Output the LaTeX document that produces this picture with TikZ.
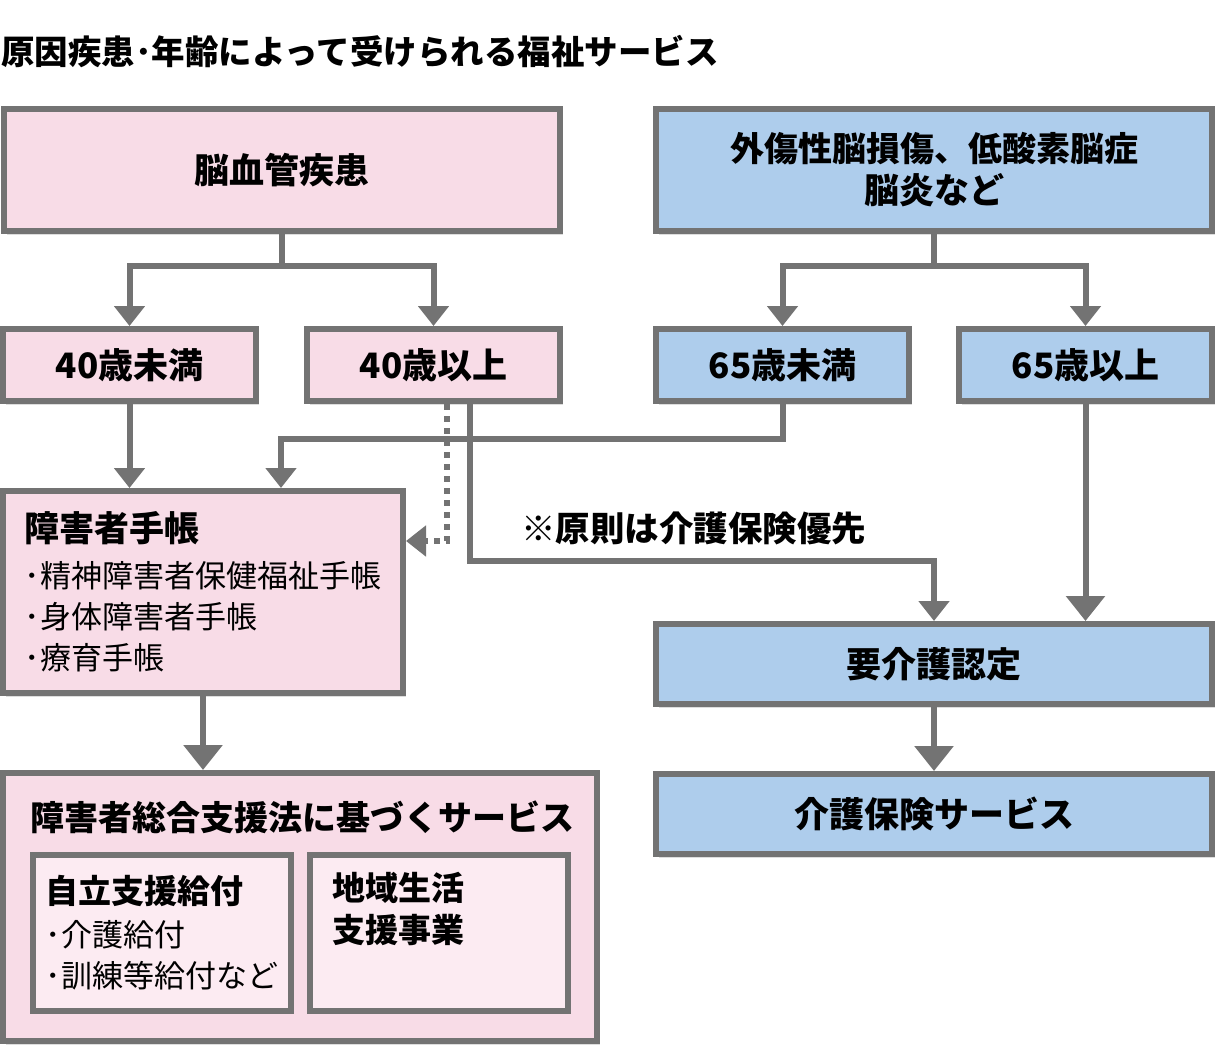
\documentclass[tikz,border=0pt]{standalone}
\usepackage{fontspec}
\setmainfont{Noto Sans CJK JP}
\usepackage{xcolor}
\usetikzlibrary{
    arrows.meta,
    shadows,
    calc,
    positioning
}
\definecolor{boxpink}{HTML}{F8DCE7}
\definecolor{boxblue}{HTML}{AECDEC}
\definecolor{innerpink}{HTML}{FCEBF2}
\definecolor{linegray}{HTML}{737373}
\newcommand{\boxfont}{\fontsize{35}{42}\selectfont\bfseries}
\newcommand{\listfont}{\fontsize{31}{41}\selectfont}

\begin{document}
\begin{tikzpicture}[x=1pt, y=-1pt,
    box/.style={draw=linegray, line width=6pt, inner sep=0pt, align=center,
        font=\boxfont,
        drop shadow={shadow xshift=3pt, shadow yshift=-4pt, fill=black!60, opacity=.22}},
    pinkbox/.style={box, fill=boxpink},
    bluebox/.style={box, fill=boxblue},
    innerbox/.style={draw=linegray, line width=6pt, fill=innerpink, inner sep=0pt,
        minimum width=258pt, minimum height=156pt},
    agebox/.style={minimum width=253pt, minimum height=72pt},
    wide/.style={minimum width=556pt},
    line/.style={draw=linegray, line width=6pt},
    arr/.style={line, -{Triangle[width=30pt, length=20pt]}},
    bigarr/.style={line, -{Triangle[width=38pt, length=25pt]}},
    dotarr/.style={arr, dash pattern=on 6pt off 6pt}
]
    \useasboundingbox (0,0) rectangle (1231,1060);

    \node[anchor=west, inner sep=0pt, font=\fontsize{33.5}{38}\selectfont\bfseries]
        (title) at (1,52) {原因疾患･年齢によって受けられる福祉サービス};

    % cause of the injury
    \node[pinkbox, wide, minimum height=122pt] (brain) at (281.5,170) {脳血管疾患};
    \node[bluebox, wide, minimum height=122pt] (trauma) at (934,170)
        {\fontsize{34}{42}\selectfont 外傷性脳損傷、低酸素脳症\\脳炎など};

    % age
    \node[pinkbox, agebox] (under40) at (129.5,365) {40歳未満};
    \node[pinkbox, agebox] (over40) at (433.5,365) {40歳以上};
    \node[bluebox, agebox] (under65) at (782.5,365) {65歳未満};
    \node[bluebox, agebox] (over65) at (1085.5,365) {65歳以上};

    % services
    \node[pinkbox, minimum width=400pt, minimum height=202pt, align=left, font=\listfont]
        (techo) at (203,592)
        {{\boxfont 障害者手帳}\\[5pt]･精神障害者保健福祉手帳\\･身体障害者手帳\\･療育手帳};
    \node[bluebox, wide, minimum height=80pt] (nintei) at (934,664) {要介護認定};
    \node[bluebox, wide, minimum height=80pt] (kaigo) at (934,814) {介護保険サービス};

    \node[pinkbox, minimum width=594pt, minimum height=268pt] (sogo) at (300,907) {};
    \node[anchor=west, inner sep=0pt, font=\fontsize{34}{40}\selectfont\bfseries]
        (sogotitle) at (30,817) {障害者総合支援法に基づくサービス};
    \node[innerbox, align=left, font=\listfont] (jiritsu) at (162,933)
        {{\fontsize{33}{41}\selectfont\bfseries 自立支援給付}\\[2pt]･介護給付\\･訓練等給付など};
    \node[innerbox] (chiiki) at (439,933) {};
    \node[anchor=north west, inner sep=0pt, align=left,
        font=\fontsize{33}{42}\selectfont\bfseries]
        (chiikitxt) at (332,872) {地域生活\\支援事業};

    \node[anchor=west, inner sep=0pt, font=\fontsize{34.5}{40}\selectfont\bfseries]
        (note) at (521,528) {※原則は介護保険優先};

    % connectors
    \draw[line] (brain.south) -- ++(0,32) coordinate (brainfork);
    \draw[arr] (brainfork) -| (under40.north);
    \draw[arr] (brainfork) -| (over40.north);
    \draw[line] (trauma.south) -- ++(0,32) coordinate (traumafork);
    \draw[arr] (traumafork) -| (under65.north);
    \draw[arr] (traumafork) -| (over65.north);

    \coordinate (kink65) at (281,439);
    \draw[arr] (under40.south) -- (under40.south |- techo.north);
    \draw[arr] (under65.south) |- (kink65) -- (kink65 |- techo.north);
    \draw[dotarr] ([xshift=13pt]over40.south) |- ([yshift=-53pt]techo.north east);
    \draw[arr] ([xshift=36pt]over40.south) |- ([yshift=60pt]nintei.north) -- (nintei.north);
    \draw[bigarr] (over65.south) -- (over65.south |- nintei.north);
    \draw[bigarr] (nintei) -- (kaigo);
    \draw[bigarr] (techo.south) -- (techo.south |- sogo.north);
\end{tikzpicture}
\end{document}
